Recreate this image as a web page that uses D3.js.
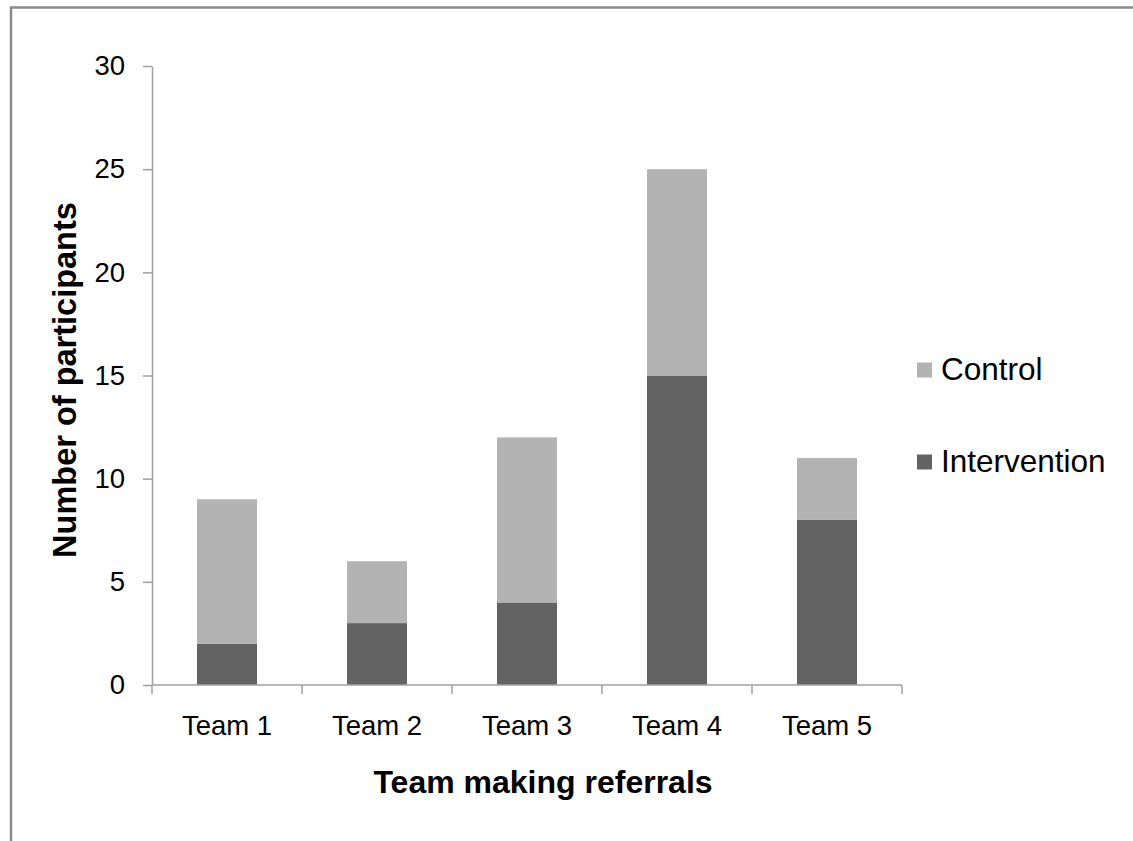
<!DOCTYPE html>
<html>
<head>
<meta charset="utf-8">
<script src="https://cdn.jsdelivr.net/npm/d3@7"></script>
<style>
  html, body { margin: 0; padding: 0; background: #fff; }
  svg { display: block; font-family: Arial, "Liberation Sans", sans-serif; }
</style>
</head>
<body>
<svg id="chart" width="1133" height="841"></svg>
<script>
// Referrals by team, split by trial arm
const teams = ["Team 1", "Team 2", "Team 3", "Team 4", "Team 5"];
const intervention = [2, 3, 4, 15, 8];
const control = [7, 3, 8, 10, 3];
const seriesNames = ["Control", "Intervention"];
const yTicks = [0, 5, 10, 15, 20, 25, 30];

const colors = { Control: "#b3b3b3", Intervention: "#636363" };

const svg = d3.select("#chart");

// outer frame (runs off the right and bottom edges)
svg.append("rect")
  .attr("x", 11).attr("y", 7.5)
  .attr("width", 1200).attr("height", 900)
  .attr("fill", "none")
  .attr("stroke", "#8a8a8a")
  .attr("stroke-width", 2.5);

const plot = { left: 152, right: 902, top: 66, bottom: 685 };

const x = d3.scaleBand()
  .domain(teams)
  .range([plot.left, plot.right])
  .paddingInner(0.6)
  .paddingOuter(0.3);

const y = d3.scaleLinear()
  .domain([0, 30])
  .range([plot.bottom, plot.top]);

const rows = teams.map((t, i) => ({ team: t, Intervention: intervention[i], Control: control[i] }));
const stacked = d3.stack().keys(["Intervention", "Control"])(rows);

const g = svg.append("g");
g.selectAll("g.series")
  .data(stacked)
  .join("g")
  .attr("class", "series")
  .attr("fill", d => colors[d.key])
  .selectAll("rect")
  .data(d => d)
  .join("rect")
  .attr("x", d => x(d.data.team))
  .attr("width", x.bandwidth())
  .attr("y", d => y(d[1]))
  .attr("height", d => y(d[0]) - y(d[1]));

// y axis
const yAxis = svg.append("g")
  .attr("transform", `translate(${plot.left},0)`)
  .call(d3.axisLeft(y).tickValues(yTicks).tickSize(9).tickPadding(18).tickSizeOuter(0));
yAxis.select(".domain").attr("stroke", "#a0a0a0").attr("stroke-width", 1.5);
yAxis.selectAll(".tick line").attr("stroke", "#a0a0a0").attr("stroke-width", 1.5);
yAxis.selectAll(".tick text")
  .attr("fill", "#000")
  .attr("font-size", 27.5)
  .attr("font-family", "Arial, 'Liberation Sans', sans-serif");

// x axis with ticks at category boundaries
const xLine = svg.append("g").attr("transform", `translate(0,${plot.bottom})`);
xLine.append("line")
  .attr("x1", plot.left).attr("x2", plot.right)
  .attr("stroke", "#a0a0a0").attr("stroke-width", 1.5);
const bounds = d3.range(teams.length + 1).map(i => plot.left + i * (plot.right - plot.left) / teams.length);
xLine.selectAll("line.tick")
  .data(bounds)
  .join("line")
  .attr("class", "tick")
  .attr("x1", d => d).attr("x2", d => d)
  .attr("y1", 0).attr("y2", 9)
  .attr("stroke", "#a0a0a0").attr("stroke-width", 1.5);
xLine.selectAll("text")
  .data(teams)
  .join("text")
  .attr("x", d => x(d) + x.bandwidth() / 2)
  .attr("y", 50)
  .attr("text-anchor", "middle")
  .attr("font-size", 27.5)
  .attr("fill", "#000")
  .text(d => d);

// axis titles
svg.append("text")
  .attr("x", 543).attr("y", 793)
  .attr("text-anchor", "middle")
  .attr("font-size", 32)
  .attr("font-weight", "bold")
  .text("Team making referrals");

svg.append("text")
  .attr("transform", "translate(76,380) rotate(-90)")
  .attr("text-anchor", "middle")
  .attr("font-size", 32.5)
  .attr("font-weight", "bold")
  .text("Number of participants");

// legend
const legendY = { Control: 370, Intervention: 462 };
const legend = svg.append("g");
seriesNames.forEach(name => {
  legend.append("rect")
    .attr("x", 917).attr("y", legendY[name] - 7.5)
    .attr("width", 15).attr("height", 15)
    .attr("fill", colors[name]);
  legend.append("text")
    .attr("x", 941).attr("y", legendY[name] + 10)
    .attr("font-size", 31.5)
    .attr("fill", "#000")
    .text(name);
});
</script>
</body>
</html>
